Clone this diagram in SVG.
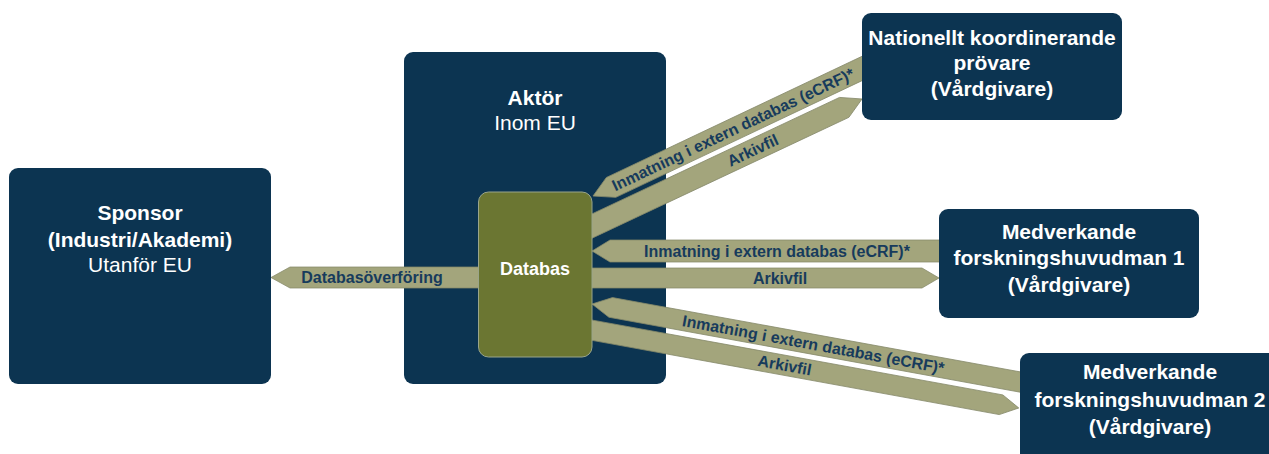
<svg xmlns="http://www.w3.org/2000/svg" width="1269" height="454" viewBox="0 0 1269 454">
  <style>
    .box { fill: #0c3451; }
    .db { fill: #6b7632; stroke: #9aa58a; stroke-width: 1; }
    .arrow { fill: #a3a57c; stroke: #85896a; stroke-width: 0.75; }
    .t { font-family: "Liberation Sans", Arial, sans-serif; fill: #ffffff; text-anchor: middle; font-size: 21px; }
    .b { font-weight: bold; }
    .lbl { font-family: "Liberation Sans", Arial, sans-serif; font-weight: bold; font-size: 16px; fill: #173b5c; text-anchor: middle; }
  </style>

  <rect width="1269" height="454" fill="#ffffff"/>

  <!-- Actor container (inside EU) -->
  <g id="aktor">
    <rect class="box" x="404" y="52" width="262" height="332" rx="9"/>
    <text class="t b" x="535" y="105">Aktör</text>
    <text class="t" x="535" y="130">Inom EU</text>
  </g>

  <!-- Data flows -->
  <g id="connectors">
    <!-- Database transfer to sponsor -->
    <polygon class="arrow" points="271,277.5 290,267 500,267 500,288 290,288"/>
    <text class="lbl" x="372" y="283">Databasöverföring</text>

    <!-- National coordinating investigator -->
    <g transform="translate(593,196) rotate(-25.36)">
      <polygon class="arrow" points="0,0 20,-11 320,-11 320,11 20,11"/>
      <text class="lbl" x="155" y="5.5">Inmatning i extern databas (eCRF)*</text>
    </g>
    <g transform="translate(580,231.7) rotate(-25.2)">
      <polygon class="arrow" points="0,-11 292,-11 311.7,0 292,11 0,11"/>
      <text class="lbl" x="191" y="5.5">Arkivfil</text>
    </g>

    <!-- Participating research principal 1 -->
    <polygon class="arrow" points="592,251 610,240 950,240 950,262 610,262"/>
    <text class="lbl" x="777" y="256.5">Inmatning i extern databas (eCRF)*</text>
    <polygon class="arrow" points="585,268 922,268 939,278 922,288 585,288"/>
    <text class="lbl" x="780" y="283.5">Arkivfil</text>

    <!-- Participating research principal 2 -->
    <g transform="translate(592,304) rotate(10.33)">
      <polygon class="arrow" points="0,0 19,-10 450,-10 450,10 19,10"/>
      <text class="lbl" x="225" y="5.5">Inmatning i extern databas (eCRF)*</text>
    </g>
    <g transform="translate(580,328) rotate(10.33)">
      <polygon class="arrow" points="0,-10 428,-10 446,0 428,10 0,10"/>
      <text class="lbl" x="208" y="5.5">Arkivfil</text>
    </g>
  </g>

  <g id="databas">
    <rect class="db" x="478.5" y="192" width="113.5" height="165" rx="10"/>
    <text class="t b" x="535" y="275" style="font-size:18px">Databas</text>
  </g>

  <g id="sponsor">
    <rect class="box" x="9" y="168" width="262" height="216" rx="9"/>
    <text class="t b" x="140" y="220">Sponsor</text>
    <text class="t b" x="140" y="247">(Industri/Akademi)</text>
    <text class="t" x="140" y="272">Utanför EU</text>
  </g>

  <g id="nationell">
    <rect class="box" x="862" y="13" width="260" height="107" rx="9"/>
    <text class="t b" x="992" y="45">Nationellt koordinerande</text>
    <text class="t b" x="992" y="70">prövare</text>
    <text class="t b" x="992" y="96">(Vårdgivare)</text>
  </g>

  <g id="medverkande1">
    <rect class="box" x="939" y="209" width="260" height="109" rx="9"/>
    <text class="t b" x="1069" y="239">Medverkande</text>
    <text class="t b" x="1069" y="265">forskningshuvudman 1</text>
    <text class="t b" x="1069" y="292">(Vårdgivare)</text>
  </g>

  <g id="medverkande2">
    <rect class="box" x="1020" y="353" width="262" height="112" rx="9"/>
    <text class="t b" x="1150" y="379">Medverkande</text>
    <text class="t b" x="1150" y="407">forskningshuvudman 2</text>
    <text class="t b" x="1150" y="434">(Vårdgivare)</text>
  </g>
</svg>
